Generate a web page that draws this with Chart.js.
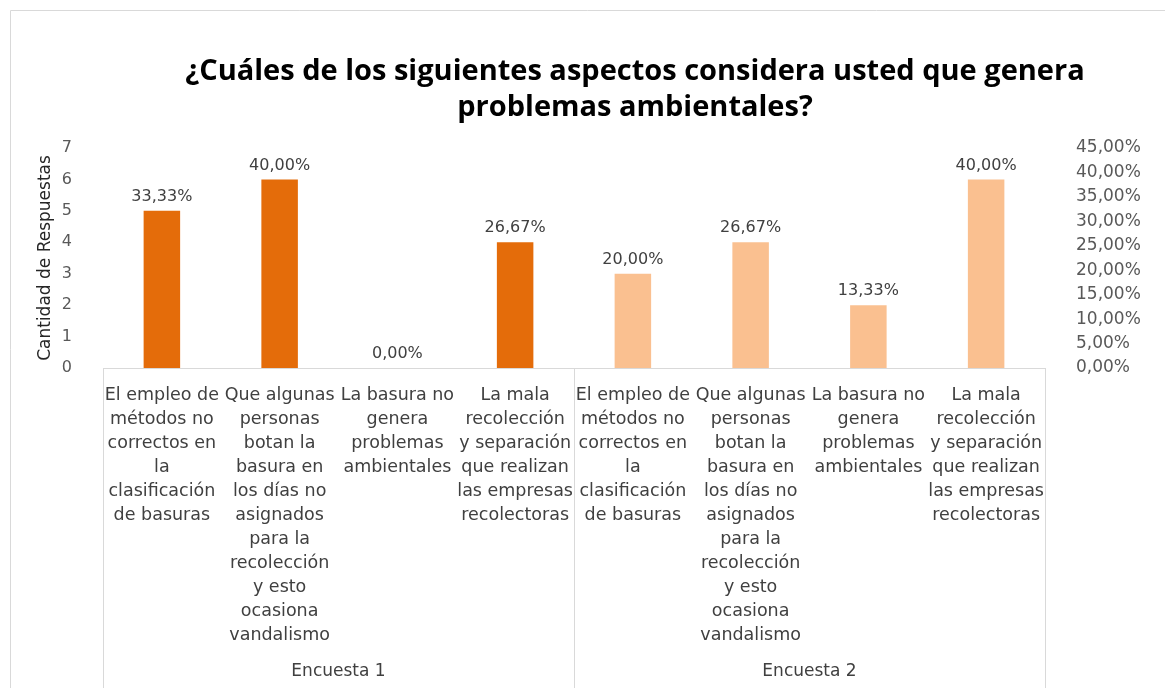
<!DOCTYPE html>
<html>
<head>
<meta charset="utf-8">
<script src="https://cdn.jsdelivr.net/npm/chart.js@4"></script>
<style>
  html, body { margin: 0; padding: 0; background: #fff; }
  #wrap { position: relative; width: 1165px; height: 688px; }
</style>
</head>
<body>
<div id="wrap"><canvas id="myChart"></canvas></div>
<script>
// data
const categories = [
    ['El empleo de', 'métodos no', 'correctos en', 'la', 'clasificación', 'de basuras'],
    ['Que algunas', 'personas', 'botan la', 'basura en', 'los días no', 'asignados', 'para la', 'recolección', 'y esto', 'ocasiona', 'vandalismo'],
    ['La basura no', 'genera', 'problemas', 'ambientales'],
    ['La mala', 'recolección', 'y separación', 'que realizan', 'las empresas', 'recolectoras'],
    ['El empleo de', 'métodos no', 'correctos en', 'la', 'clasificación', 'de basuras'],
    ['Que algunas', 'personas', 'botan la', 'basura en', 'los días no', 'asignados', 'para la', 'recolección', 'y esto', 'ocasiona', 'vandalismo'],
    ['La basura no', 'genera', 'problemas', 'ambientales'],
    ['La mala', 'recolección', 'y separación', 'que realizan', 'las empresas', 'recolectoras']
];
const groups = ['Encuesta 1', 'Encuesta 2'];
const respuestas = [5, 6, 0, 4, 3, 4, 2, 6];
const porcentajes = [33.33, 40.00, 0.00, 26.67, 20.00, 26.67, 13.33, 40.00];
const groupColors = ['#E46C0A', '#FAC090'];
const titleLines = ['¿Cuáles de los siguientes aspectos considera usted que genera', 'problemas ambientales?'];

const FONT = "'DejaVu Sans', sans-serif";
const TITLE_FONT = "'Open Sans', sans-serif";

function fmtPct(v) {
    return v.toFixed(2).replace('.', ',') + '%';
}

// draws frame, title, separators, group names and percent labels
const extras = {
    id: 'extras',
    beforeDraw(chart) {
        const c = chart.ctx;
        c.save();
        c.strokeStyle = '#d9d9d9';
        c.lineWidth = 1;
        c.beginPath();
        c.moveTo(10.5, 688);
        c.lineTo(10.5, 10.5);
        c.lineTo(1165, 10.5);
        c.stroke();
        c.restore();
    },
    afterDraw(chart) {
        const c = chart.ctx;
        const x = chart.scales.x;
        const area = chart.chartArea;
        c.save();

        // title
        c.fillStyle = '#000';
        c.font = 'bold 29px ' + TITLE_FONT;
        c.textAlign = 'center';
        c.textBaseline = 'middle';
        c.fillText(titleLines[0], 635, 72);
        c.fillText(titleLines[1], 635, 108);

        // group separators
        c.strokeStyle = '#d9d9d9';
        c.lineWidth = 1;
        const mid = (x.getPixelForValue(3) + x.getPixelForValue(4)) / 2;
        [area.left, mid, area.right].forEach(px => {
            c.beginPath();
            c.moveTo(Math.round(px) + 0.5, area.bottom);
            c.lineTo(Math.round(px) + 0.5, 688);
            c.stroke();
        });

        // group names
        c.fillStyle = '#404040';
        c.font = '17px ' + FONT;
        groups.forEach((g, gi) => {
            const cx = (x.getPixelForValue(gi * 4) + x.getPixelForValue(gi * 4 + 3)) / 2;
            c.fillText(g, cx, 672);
        });

        // percent labels above bars
        c.font = '16px ' + FONT;
        c.textBaseline = 'bottom';
        chart.getDatasetMeta(0).data.forEach((bar, i) => {
            c.fillText(fmtPct(porcentajes[i]), bar.x, bar.y - 6);
        });
        c.restore();
    }
};

const ctx = document.getElementById('myChart').getContext('2d');
const myChart = new Chart(ctx, {
    type: 'bar',
    data: {
        labels: categories,
        datasets: [{
            label: 'Cantidad de Respuestas',
            data: respuestas,
            backgroundColor: respuestas.map((v, i) => groupColors[Math.floor(i / 4)]),
            categoryPercentage: 1,
            barPercentage: 0.31
        }]
    },
    options: {
        responsive: true,
        maintainAspectRatio: false,
        animation: false,
        layout: { padding: { top: 148, left: 31, right: 0, bottom: 0 } },
        plugins: {
            legend: { display: false },
            tooltip: { enabled: false }
        },
        scales: {
            x: {
                grid: { display: false },
                border: { display: true, color: '#d9d9d9' },
                ticks: {
                    autoSkip: false,
                    maxRotation: 0,
                    minRotation: 0,
                    padding: 7,
                    color: '#404040',
                    font: { family: FONT, size: 17.5, lineHeight: 24 / 17.5 }
                },
                afterFit(scale) { scale.height = 320; }
            },
            y: {
                position: 'left',
                min: 0,
                max: 7,
                grid: { display: false },
                border: { display: false },
                ticks: {
                    stepSize: 1,
                    padding: 23,
                    color: '#595959',
                    font: { family: FONT, size: 16 }
                },
                title: {
                    display: true,
                    text: 'Cantidad de Respuestas',
                    color: '#262626',
                    font: { family: FONT, size: 17 }
                },
                afterFit(scale) { scale.width = 72; }
            },
            y1: {
                position: 'right',
                min: 0,
                max: 45,
                grid: { display: false },
                border: { display: false },
                ticks: {
                    stepSize: 5,
                    padding: 23,
                    color: '#595959',
                    font: { family: FONT, size: 17 },
                    callback: v => fmtPct(v)
                },
                afterFit(scale) { scale.width = 120; }
            }
        }
    },
    plugins: [extras]
});
</script>
</body>
</html>
